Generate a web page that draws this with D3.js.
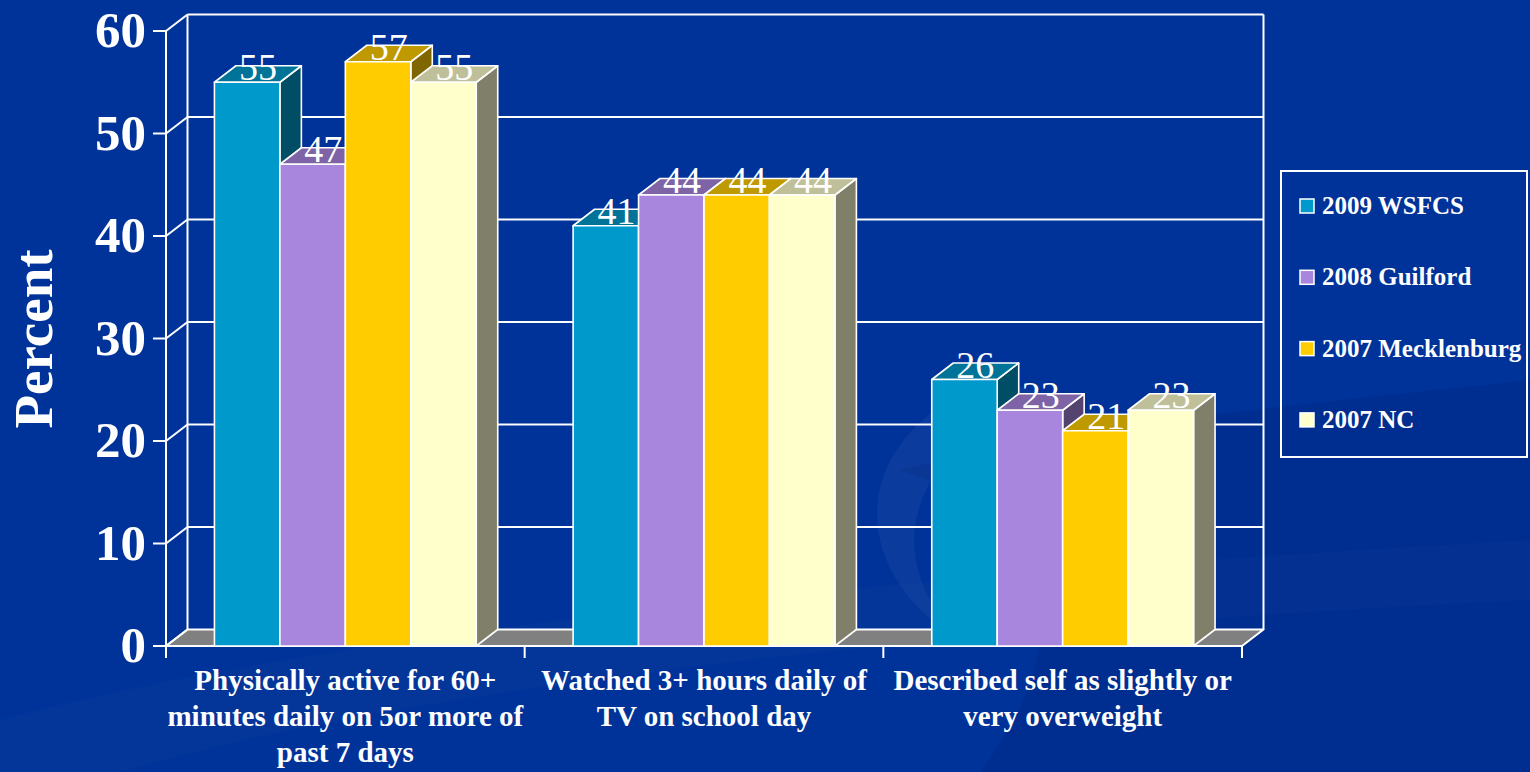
<!DOCTYPE html>
<html>
<head>
<meta charset="utf-8">
<script src="https://cdn.jsdelivr.net/npm/d3@7"></script>
<style>
  html, body { margin: 0; padding: 0; background: #003399; overflow: hidden; }
  svg { display: block; }
</style>
</head>
<body>
<svg id="chart" width="1530" height="772"></svg>
<script>
// ---- data ----
const categories = [
  ["Physically active for 60+", "minutes daily on 5or more of", "past 7 days"],
  ["Watched 3+ hours daily of", "TV on school day"],
  ["Described self as slightly or", "very overweight"]
];
const seriesNames = ["2009 WSFCS", "2008 Guilford", "2007 Mecklenburg", "2007 NC"];
const wsfcs2009 = [55, 41, 26];
const guilford2008 = [47, 44, 23];
const mecklenburg2007 = [57, 44, 21];
const nc2007 = [55, 44, 23];
const seriesValues = [wsfcs2009, guilford2008, mecklenburg2007, nc2007];
const yTicks = [0, 10, 20, 30, 40, 50, 60];

const frontColors = ["#0099CC", "#A886DE", "#FFCC00", "#FFFFCC"];
const topColors   = ["#007399", "#7E64A6", "#BF9900", "#BFBF99"];
const sideColors  = ["#004D66", "#54426F", "#806600", "#80806A"];

const FONT = "'Liberation Serif', 'Times New Roman', serif";
const svg = d3.select("#chart");

// ---- background swooshes ----
const bg = svg.append("g");
bg.append("rect").attr("width", 1530).attr("height", 772).attr("fill", "#003399");
bg.append("path")
  .attr("d", "M0,772 L0,720 C300,640 800,580 1530,540 L1530,600 C900,630 400,690 120,772 Z")
  .attr("fill", "#ffffff").attr("opacity", 0.015);
bg.append("path")
  .attr("d", "M980,772 C1080,640 1060,520 900,470 C1100,420 1350,400 1530,380 L1530,772 Z")
  .attr("fill", "#001f77").attr("opacity", 0.25);
bg.append("path")
  .attr("d", "M1000,380 C860,420 830,560 960,640 C880,560 900,440 1060,400 Z")
  .attr("fill", "#ffffff").attr("opacity", 0.04);

// ---- scales ----
const dx = 21.5, dy = -16.5;
const x = d3.scaleBand().domain(d3.range(categories.length)).range([166, 1242]).padding(0);
const inner = d3.scaleBand().domain(d3.range(seriesNames.length))
  .range([0, x.bandwidth()]).paddingInner(0).paddingOuter(0.74);
const y = d3.scaleLinear().domain([0, 60]).range([646, 31]);

const left = x.range()[0], right = x.range()[1];
const base = y(0);
const g = svg.append("g");
const W = "#ffffff";

// floor
g.append("path")
  .attr("d", `M${left},${base} L${right},${base} L${right+dx},${base+dy} L${left+dx},${base+dy} Z`)
  .attr("fill", "#808080").attr("stroke", W).attr("stroke-width", 2).attr("stroke-linejoin", "round");

// back wall gridlines and left wall diagonals
yTicks.forEach(t => {
  const yy = y(t);
  if (t > 0) {
    g.append("line").attr("x1", left + dx).attr("x2", right + dx)
      .attr("y1", yy + dy).attr("y2", yy + dy).attr("stroke", W).attr("stroke-width", 2);
  }
  g.append("line").attr("x1", left).attr("y1", yy).attr("x2", left + dx).attr("y2", yy + dy)
    .attr("stroke", W).attr("stroke-width", 2);
  g.append("line").attr("x1", left - 13).attr("x2", left).attr("y1", yy).attr("y2", yy)
    .attr("stroke", W).attr("stroke-width", 2);
});
// back wall verticals
[left + dx, right + dx].forEach(xx => {
  g.append("line").attr("x1", xx).attr("x2", xx).attr("y1", y(60) + dy).attr("y2", base + dy)
    .attr("stroke", W).attr("stroke-width", 2);
});
// front axis
g.append("line").attr("x1", left).attr("x2", left).attr("y1", y(60)).attr("y2", base + 12)
  .attr("stroke", W).attr("stroke-width", 2);
g.append("line").attr("x1", left - 13).attr("x2", right).attr("y1", base).attr("y2", base)
  .attr("stroke", W).attr("stroke-width", 2);
// category ticks
d3.range(categories.length + 1).forEach(i => {
  const xx = i < categories.length ? x(i) : right;
  g.append("line").attr("x1", xx).attr("x2", xx).attr("y1", base).attr("y2", base + 12)
    .attr("stroke", W).attr("stroke-width", 2);
});

// ---- bars ----
const bars = g.append("g");
const labels = [];
categories.forEach((c, ci) => {
  seriesNames.forEach((s, si) => {
    const v = seriesValues[si][ci];
    const x0 = x(ci) + inner(si), x1 = x0 + inner.bandwidth();
    const yt = y(v);
    const bg2 = bars.append("g").attr("stroke", W).attr("stroke-width", 1.6).attr("stroke-linejoin", "round");
    // side
    bg2.append("path").attr("d", `M${x1},${yt} L${x1+dx},${yt+dy} L${x1+dx},${base+dy} L${x1},${base} Z`)
      .attr("fill", sideColors[si]);
    // top
    bg2.append("path").attr("d", `M${x0},${yt} L${x1},${yt} L${x1+dx},${yt+dy} L${x0+dx},${yt+dy} Z`)
      .attr("fill", topColors[si]);
    // front
    bg2.append("rect").attr("x", x0).attr("y", yt).attr("width", x1 - x0).attr("height", base - yt)
      .attr("fill", frontColors[si]);
    labels.push({ x: (x0 + x1) / 2 + dx / 2, y: yt - 2, v });
  });
});
g.append("g").selectAll("text").data(labels).join("text")
  .attr("x", d => d.x).attr("y", d => d.y)
  .attr("text-anchor", "middle").attr("fill", W)
  .style("font-family", FONT).style("font-size", "38px")
  .text(d => d.v);

// ---- y tick labels ----
g.append("g").selectAll("text").data(yTicks).join("text")
  .attr("x", 146).attr("y", d => y(d) + 16)
  .attr("text-anchor", "end").attr("fill", W)
  .style("font-family", FONT).style("font-size", "51px").style("font-weight", "bold")
  .text(d => d);

// y title
svg.append("text")
  .attr("transform", "translate(52,339) rotate(-90)")
  .attr("text-anchor", "middle").attr("fill", W)
  .style("font-family", FONT).style("font-size", "55px").style("font-weight", "bold")
  .text("Percent");

// ---- category labels ----
categories.forEach((lines, ci) => {
  const cx = x(ci) + x.bandwidth() / 2;
  lines.forEach((ln, li) => {
    svg.append("text").attr("x", cx).attr("y", 690 + li * 36)
      .attr("text-anchor", "middle").attr("fill", W)
      .style("font-family", FONT).style("font-size", "29px").style("font-weight", "bold")
      .text(ln);
  });
});

// ---- legend ----
const lg = svg.append("g");
lg.append("rect").attr("x", 1281).attr("y", 171).attr("width", 246).attr("height", 286)
  .attr("fill", "none").attr("stroke", W).attr("stroke-width", 2);
seriesNames.forEach((s, i) => {
  const by = 214 + i * 71.3;
  lg.append("rect").attr("x", 1300).attr("y", by - 15).attr("width", 14).attr("height", 14)
    .attr("fill", frontColors[i]).attr("stroke", W).attr("stroke-width", 1.5);
  lg.append("text").attr("x", 1322).attr("y", by).attr("fill", W)
    .style("font-family", FONT).style("font-size", "25px").style("font-weight", "bold")
    .text(s);
});
</script>
</body>
</html>
